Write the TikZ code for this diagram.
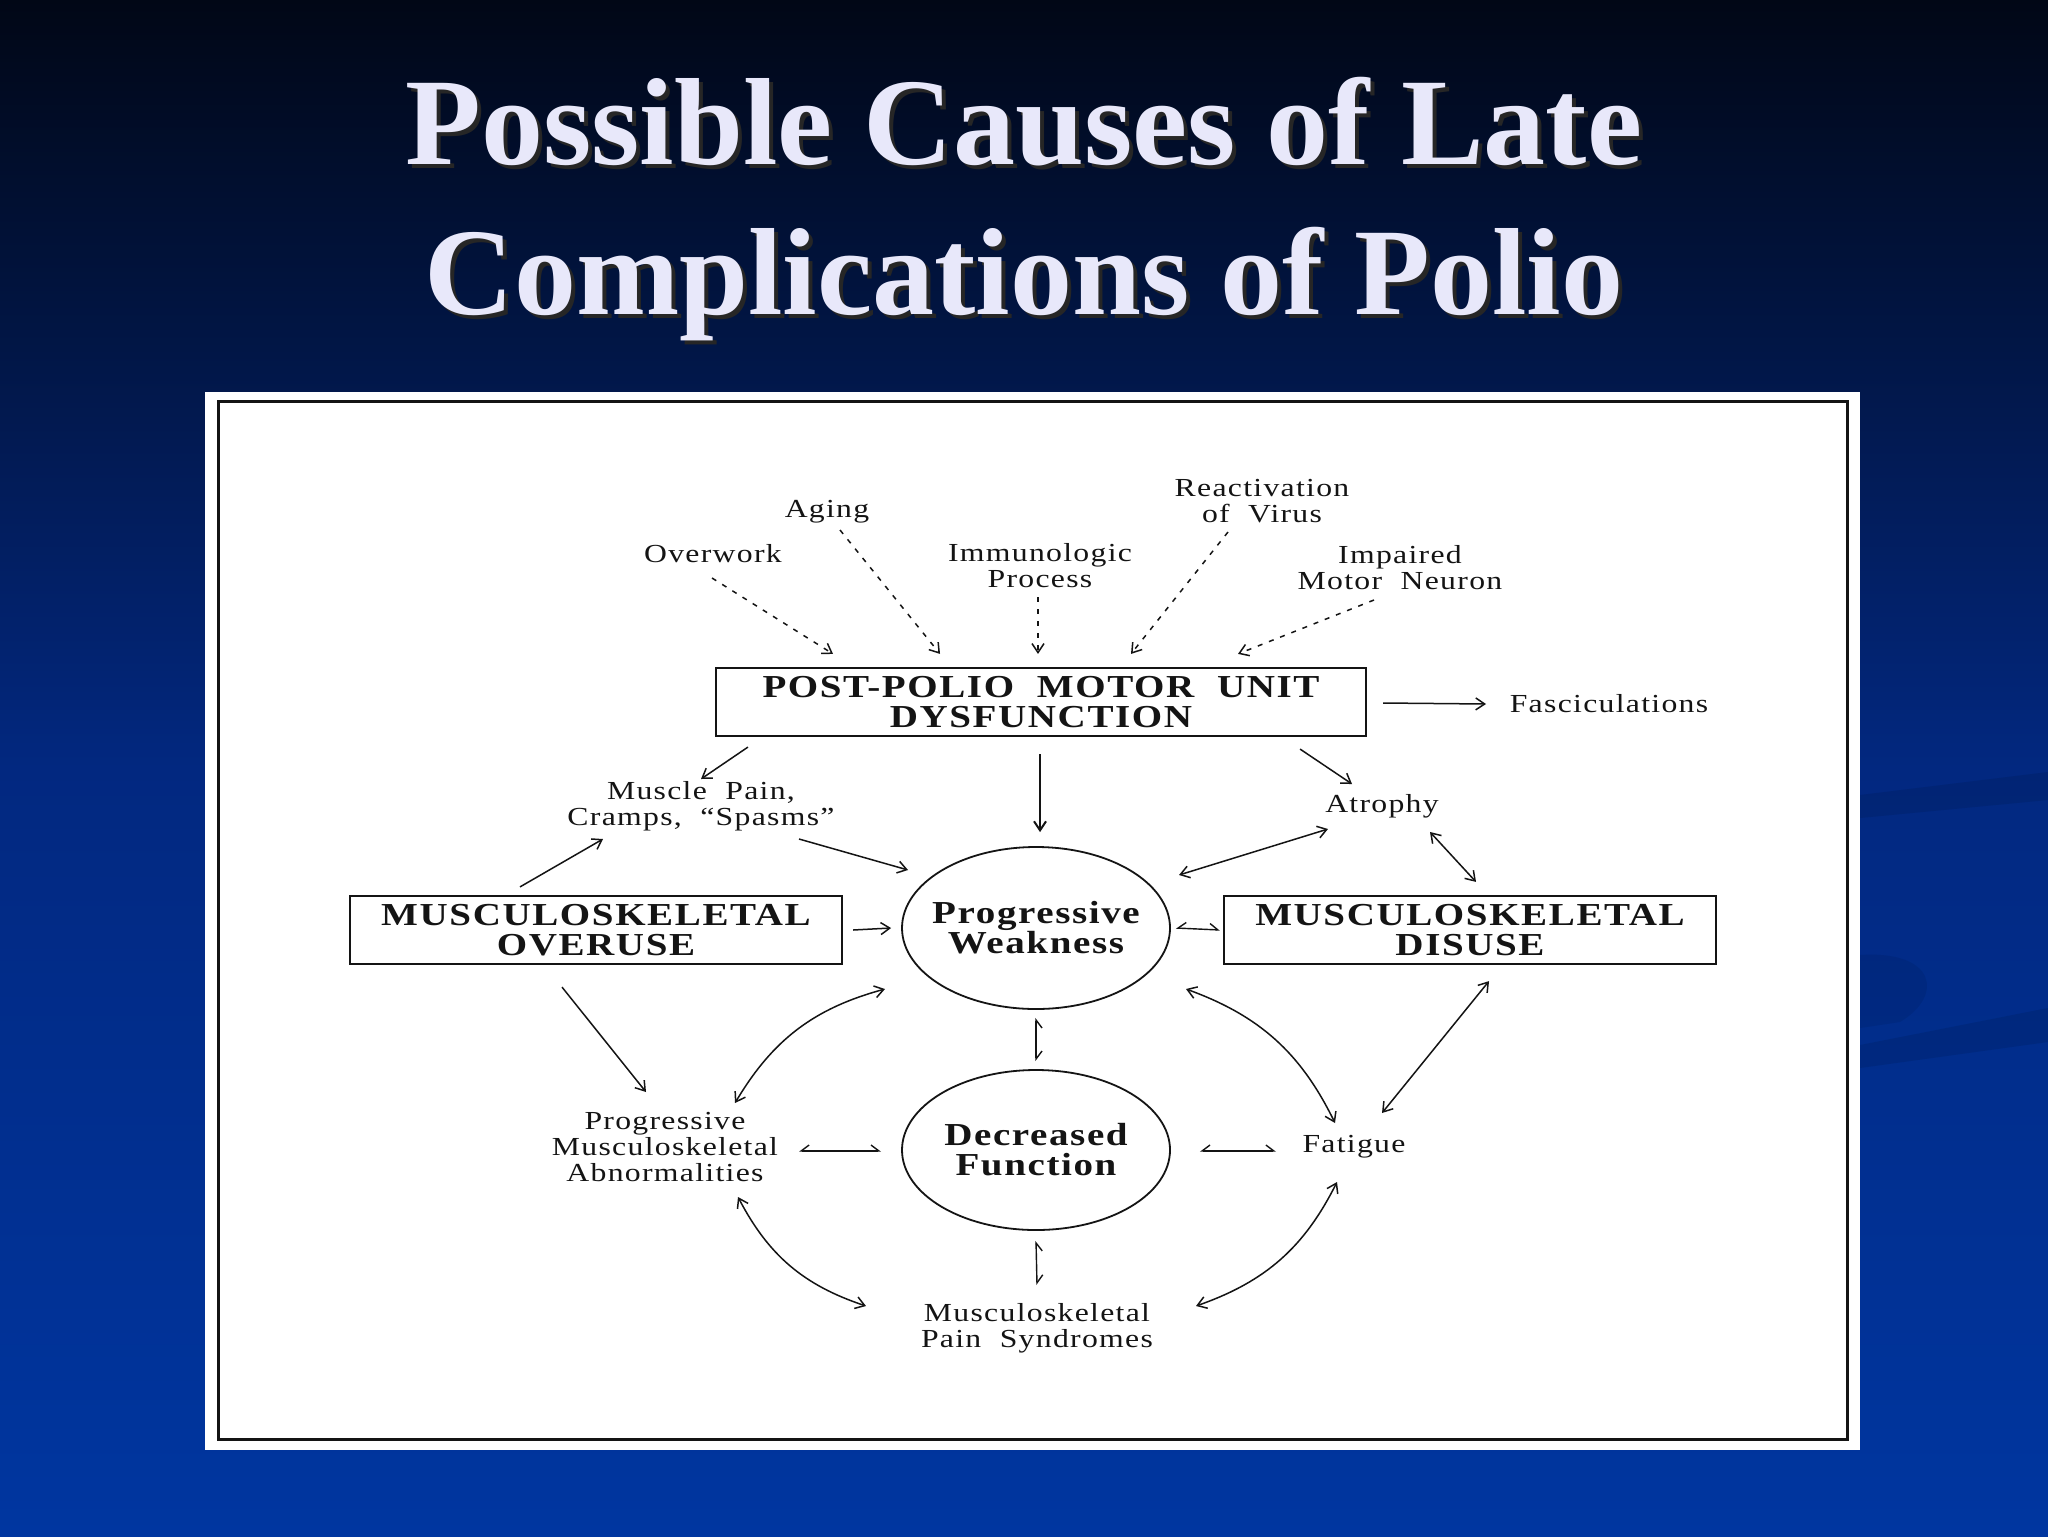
\documentclass[tikz,border=0pt]{standalone}
\usepackage{fontspec}
\setmainfont{Liberation Serif}
\newfontfamily\dfont[FakeStretch=1.22, LetterSpace=5]{Liberation Serif}
\usetikzlibrary{arrows.meta,shapes.geometric}
\definecolor{bgtop}{RGB}{1,7,22}
\definecolor{bgmid}{RGB}{2,40,128}
\definecolor{bgbot}{RGB}{0,54,160}
\definecolor{titlec}{RGB}{232,232,250}
\definecolor{ink}{RGB}{20,20,20}
\begin{document}
\begin{tikzpicture}[x=0.5pt,y=-0.5pt,
  lbl/.style={font=\dfont\fontsize{13}{13}\selectfont, align=center, inner sep=0pt, text=ink},
  blbl/.style={font=\dfont\bfseries\fontsize{16}{15}\selectfont, align=center, inner sep=0pt, text=ink},
  ttl/.style={font=\bfseries\fontsize{62}{70}\selectfont, anchor=base, inner sep=0pt},
  rbox/.style={draw=ink, line width=1.1pt, blbl, minimum height=34pt},
  oval/.style={draw=ink, ellipse, line width=0.9pt, blbl, inner xsep=-10pt, inner ysep=0pt, minimum width=134pt, minimum height=81pt},
  arr/.style={draw=ink, line width=0.75pt, -{Straight Barb[length=4.5pt,width=6pt]}},
  darr/.style={arr, dash pattern=on 2.5pt off 3.5pt},
  harr/.style={draw=ink, line width=0.7pt, {Straight Barb[harpoon,swap,length=4pt,width=6pt]}-{Straight Barb[harpoon,length=4pt,width=6pt]}},
  barr/.style={draw=ink, line width=0.75pt, {Straight Barb[length=4.5pt,width=6pt]}-{Straight Barb[length=4.5pt,width=6pt]}}
]
\useasboundingbox (0,0) rectangle (2048,1536);
% background
\shade[top color=bgtop, bottom color=bgbot, middle color=bgmid] (0,0) rectangle (2048,1536);
% faint swooshes
\fill[black, opacity=0.09] (1860,795) -- (2048,772) -- (2048,800) -- (1860,818) -- cycle;
\fill[black, opacity=0.09] (1860,1045) -- (2048,1008) -- (2048,1042) -- (1860,1068) -- cycle;
\fill[black, opacity=0.07] (1860,955) .. controls (1935,950) and (1945,995) .. (1900,1022) -- (1860,1028) -- cycle;

% title
\node[ttl, text=black!85] (t1s) at (1028,168) {Possible Causes of Late};
\node[ttl, text=black!85] (t2s) at (1028,318) {Complications of Polio};
\node[ttl, text=titlec] (t1) at (1024,164) {Possible Causes of Late};
\node[ttl, text=titlec] (t2) at (1024,314) {Complications of Polio};

% panel
\fill[white] (205,392) rectangle (1860,1450);
\draw[ink, line width=1.5pt] (218,401) rectangle (1847,1439);

% causes
\node[lbl] (overwork) at (713,554) {Overwork};
\node[lbl] (aging) at (827,512) {Aging};
\node[lbl] (immuno) at (1040,566) {Immunologic\\Process};
\node[lbl] (react) at (1262,501) {Reactivation\\of\ \ Virus};
\node[lbl] (impaired) at (1400,568) {Impaired\\Motor\ \ Neuron};

% main box
\node[rbox, minimum width=325pt] (post) at (1041,702) {POST-POLIO\ \ MOTOR\ \ UNIT\\DYSFUNCTION};
\node[lbl] (fasc) at (1609,704) {Fasciculations};

\node[lbl] (muscle) at (701,806) {Muscle\ \ Pain,\\Cramps,\ \ “Spasms”};
\node[lbl] (atrophy) at (1382,806) {Atrophy};

\node[rbox, minimum width=246pt] (overuse) at (596,930) {MUSCULOSKELETAL\\OVERUSE};
\node[rbox, minimum width=246pt] (disuse) at (1470,930) {MUSCULOSKELETAL\\DISUSE};

\node[oval] (pw) at (1036,928) {Progressive\\Weakness};
\node[oval, minimum height=80pt] (df) at (1036,1150) {Decreased\\Function};

\node[lbl] (pma) at (665,1147) {Progressive\\Musculoskeletal\\Abnormalities};
\node[lbl] (fatigue) at (1354,1147) {Fatigue};
\node[lbl] (mps) at (1037,1328) {Musculoskeletal\\Pain\ \ Syndromes};

% dashed cause arrows
\draw[darr] ([shift={(-1,24)}]overwork.center) -- ([shift={(-208,-13)}]post.north);
\draw[darr] ([shift={(13,18)}]aging.center) -- ([shift={(-101,-13)}]post.north);
\draw[darr] ([shift={(-2,31)}]immuno.center) -- ([shift={(-3,-13)}]post.north);
\draw[darr] ([shift={(-34,31)}]react.center) -- ([shift={(90,-13)}]post.north);
\draw[darr] ([shift={(-26,32)}]impaired.center) -- ([shift={(197,-13)}]post.north);

% from main box
\draw[arr] ([shift={(16,1)}]post.east) -- ([shift={(-123,0)}]fasc.center);
\draw[arr] ([shift={(33,10)}]post.south west) -- ([shift={(0,-27)}]muscle.center);
\draw[arr, line width=1pt] ([shift={(-1,17)}]post.south) -- ([shift={(4,-14)}]pw.north);
\draw[arr] ([shift={(-67,12)}]post.south east) -- ([shift={(-30,-22)}]atrophy.center);

% overuse side
\draw[arr] ([shift={(-76,-8)}]overuse.north) -- ([shift={(-98,33)}]muscle.center);
\draw[arr] ([shift={(98,33)}]muscle.center) -- ([shift={(-128,-58)}]pw.center);
\draw[arr] ([shift={(10,0)}]overuse.east) -- ([shift={(-10,0)}]pw.west);
\draw[arr] ([shift={(-34,22)}]overuse.south) -- ([shift={(-19,-55)}]pma.center);

% disuse side
\draw[harr] ([shift={(5,0)}]pw.east) -- ([shift={(-3,0)}]disuse.west);
\draw[barr] ([shift={(-54,23)}]atrophy.center) -- ([shift={(143,-53)}]pw.center);
\draw[barr] ([shift={(48,26)}]atrophy.center) -- ([shift={(6,-13)}]disuse.north);
\draw[barr] ([shift={(19,16)}]disuse.south) -- ([shift={(28,-34)}]fatigue.center);

% curved links
\draw[barr] ([shift={(-151,61)}]pw.center) to[bend right=22] ([shift={(70,-44)}]pma.center);
\draw[barr] ([shift={(150,61)}]pw.center) to[bend left=22] ([shift={(-19,-24)}]fatigue.center);
\draw[barr] ([shift={(73,50)}]pma.center) to[bend right=22] ([shift={(-171,-22)}]mps.center);
\draw[barr] ([shift={(-17,35)}]fatigue.center) to[bend left=22] ([shift={(159,-22)}]mps.center);

% short two-way links
\draw[harr] ([shift={(0,8)}]pw.south) -- ([shift={(0,-8)}]df.north);
\draw[harr] ([shift={(0,10)}]df.south) -- ([shift={(0,-43)}]mps.center);
\draw[harr] ([shift={(134,4)}]pma.center) -- ([shift={(-20,1)}]df.west);
\draw[harr] ([shift={(29,1)}]df.east) -- ([shift={(-78,4)}]fatigue.center);
\end{tikzpicture}
\end{document}
